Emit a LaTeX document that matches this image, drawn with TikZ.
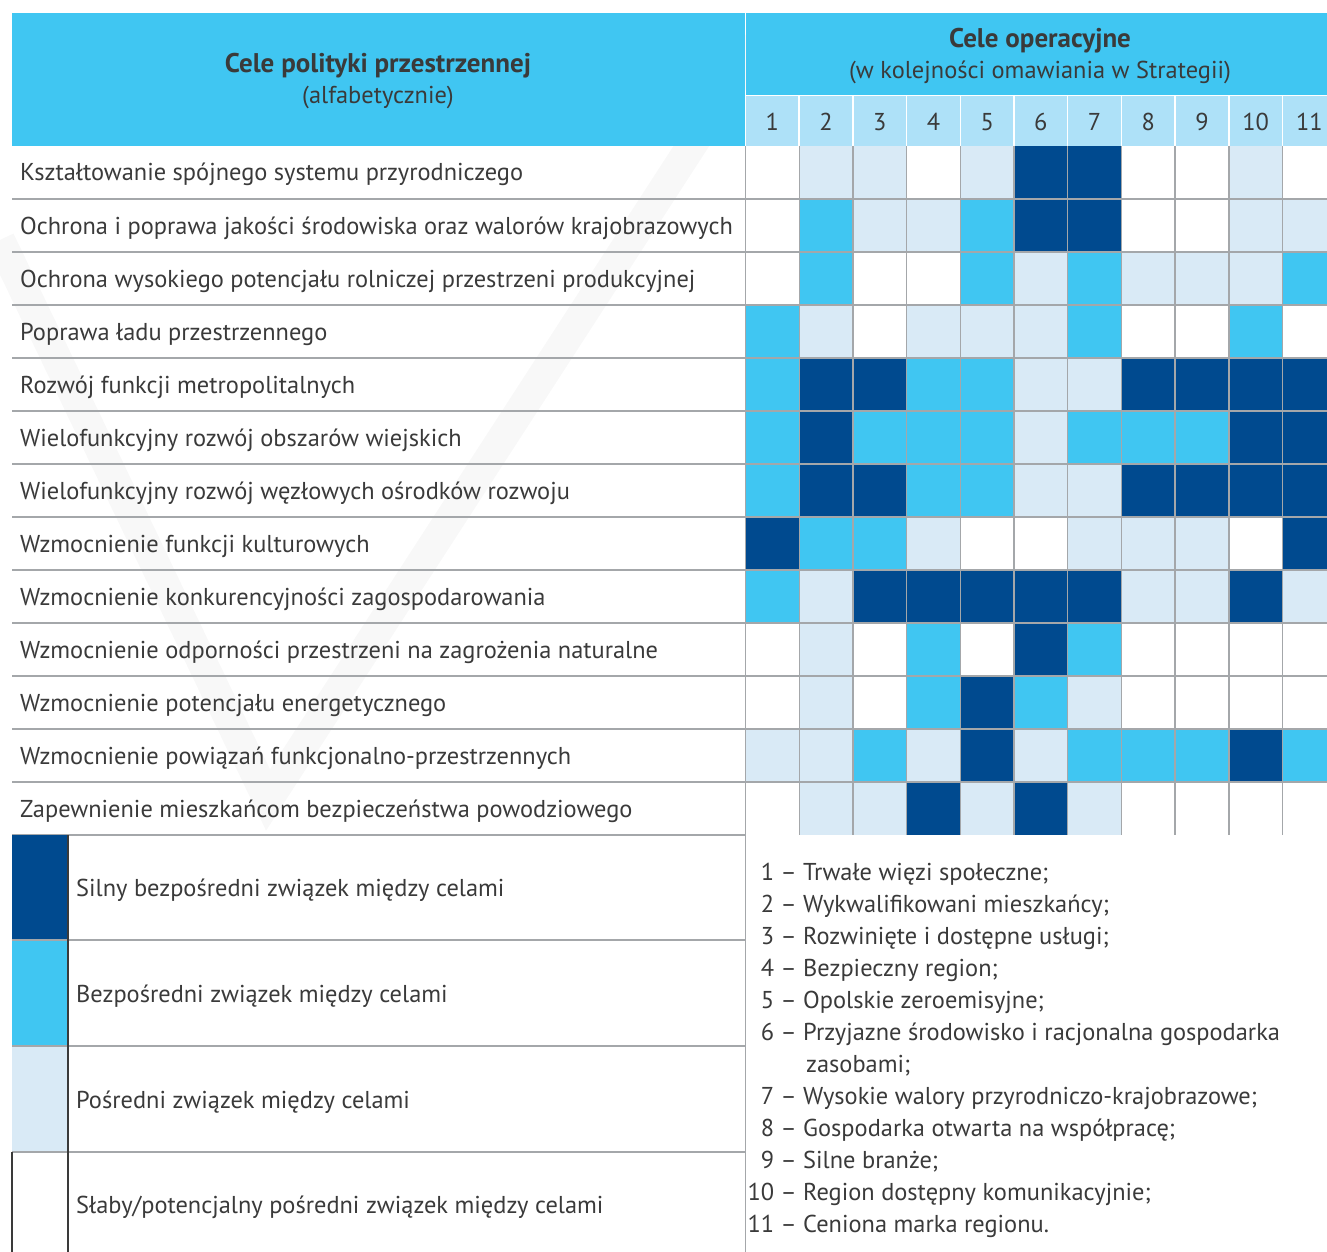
\documentclass[tikz,border=0pt]{standalone}
\usepackage{fontspec}
\setmainfont{PT Sans}
\usepackage{tikz}

\definecolor{silny}{HTML}{004A8F}
\definecolor{bezp}{HTML}{40C6F2}
\definecolor{posr}{HTML}{D9EAF6}
\definecolor{numery}{HTML}{AEE1F8}
\definecolor{linia}{HTML}{A4A7AA}
\definecolor{tekst}{HTML}{3A3A3A}
\definecolor{znak}{HTML}{F8F8F8}
\colorlet{kol0}{white}
\colorlet{kol1}{posr}
\colorlet{kol2}{bezp}
\colorlet{kol3}{silny}

\begin{document}
\begin{tikzpicture}[x=1pt,y=-1pt,
  every node/.style={text=tekst,inner sep=0pt},
  napis/.style={font=\fontsize{24.4}{29}\selectfont},
  gruby/.style={font=\fontsize{27}{31}\selectfont\bfseries},
  siatka/.style={draw=linia,line width=1.4pt}]
\useasboundingbox (0,0) rectangle (1327,1252);
\clip (0,0) rectangle (1327,1252);

% znak wodny
\draw[znak,line width=30pt] (0,240) -- (268,800) -- (760,40);

% naglowki
\fill[bezp] (12,13) rectangle (745,146);
\fill[bezp] (746,13) rectangle (1327,95);
\fill[numery] (746,96) rectangle (1327,146);
\foreach \c in {1,...,10}
  \draw[white,line width=1.5pt] ({745.5+53.7*\c},96) -- ++(0,50);
\node[gruby] (tytulL) at (378,66) {Cele polityki przestrzennej};
\node[napis] (podtytulL) at (378,97) {(alfabetycznie)};
\node[gruby] (tytulP) at (1040,41) {Cele operacyjne};
\node[napis] (podtytulP) at (1040,72) {(w kolejności omawiania w Strategii)};
\foreach \c in {1,...,11}
  \node[napis] (num\c) at ({745.5+53.7*(\c-0.5)},122) {\c};

% komorki
\foreach \r/\wart in {1/{0,1,1,0,1,3,3,0,0,1,0},2/{0,2,1,1,2,3,3,0,0,1,1},
    3/{0,2,0,0,2,1,2,1,1,1,2},4/{2,1,0,1,1,1,2,0,0,2,0},
    5/{2,3,3,2,2,1,1,3,3,3,3},6/{2,3,2,2,2,1,2,2,2,3,3},
    7/{2,3,3,2,2,1,1,3,3,3,3},8/{3,2,2,1,0,0,1,1,1,0,3},
    9/{2,1,3,3,3,3,3,1,1,3,1},10/{0,1,0,2,0,3,2,0,0,0,0},
    11/{0,1,0,2,3,2,1,0,0,0,0},12/{1,1,2,1,3,1,2,2,2,3,2},
    13/{0,1,1,3,1,3,1,0,0,0,0}}
  \foreach \v [count=\c] in \wart
    \fill[fill=kol\v] ({745.5+53.7*(\c-1)},{146+53*(\r-1)}) rectangle ++(53.7,53);

% linie siatki
\foreach \r in {1,...,12}
  \draw[siatka] (12,{146+53*\r}) -- (1327,{146+53*\r});
\draw[siatka] (12,835) -- (745.5,835);
\foreach \c in {1,...,10}
  \draw[siatka] ({745.5+53.7*\c},146) -- ++(0,689);
\draw[siatka] (745.5,146) -- (745.5,1252);

% cele polityki
\foreach \r/\opis in {1/Kształtowanie spójnego systemu przyrodniczego,
    2/Ochrona i poprawa jakości środowiska oraz walorów krajobrazowych,
    3/Ochrona wysokiego potencjału rolniczej przestrzeni produkcyjnej,
    4/Poprawa ładu przestrzennego,
    5/Rozwój funkcji metropolitalnych,
    6/Wielofunkcyjny rozwój obszarów wiejskich,
    7/Wielofunkcyjny rozwój węzłowych ośrodków rozwoju,
    8/Wzmocnienie funkcji kulturowych,
    9/Wzmocnienie konkurencyjności zagospodarowania,
    10/Wzmocnienie odporności przestrzeni na zagrożenia naturalne,
    11/Wzmocnienie potencjału energetycznego,
    12/Wzmocnienie powiązań funkcjonalno-przestrzennych,
    13/Zapewnienie mieszkańcom bezpieczeństwa powodziowego}
  \node[napis,anchor=base west] (cel\r) at (20,{146+53*\r-18}) {\opis};

% legenda
\fill[silny] (12,835) rectangle (68,940);
\fill[bezp] (12,940) rectangle (68,1046);
\fill[posr] (12,1046) rectangle (68,1152);
\foreach \y in {940,1046,1152}
  \draw[siatka] (12,\y) -- (745.5,\y);
\draw[tekst,line width=1.2pt] (68,835) -- (68,1252);
\draw[tekst,line width=1.2pt] (12,1152) -- (12,1252);
\foreach \i/\y/\opis in {1/896/Silny bezpośredni związek między celami,
    2/1002/Bezpośredni związek między celami,
    3/1108/Pośredni związek między celami,
    4/1213/{Słaby/potencjalny pośredni związek między celami}}
  \node[napis,anchor=base west] (leg\i) at (76,\y) {\opis};

% lista celow operacyjnych
\foreach \k/\y/\opis in {1/880/Trwałe więzi społeczne;,
    2/912/Wykwalifikowani mieszkańcy;,
    3/944/Rozwinięte i dostępne usługi;,
    4/976/Bezpieczny region;,
    5/1008/Opolskie zeroemisyjne;,
    6/1040/Przyjazne środowisko i racjonalna gospodarka,
    7/1104/Wysokie walory przyrodniczo-krajobrazowe;,
    8/1136/Gospodarka otwarta na współpracę;,
    9/1168/Silne branże;,
    10/1200/Region dostępny komunikacyjnie;,
    11/1232/Ceniona marka regionu.}
  {
  \node[napis,anchor=base east] (nr\k) at (797,\y) {\k{} –};
  \node[napis,anchor=base west] (op\k) at (803,\y) {\opis};
  }
\node[napis,anchor=base west] (op6b) at (806,1072) {zasobami;};
\end{tikzpicture}
\end{document}
